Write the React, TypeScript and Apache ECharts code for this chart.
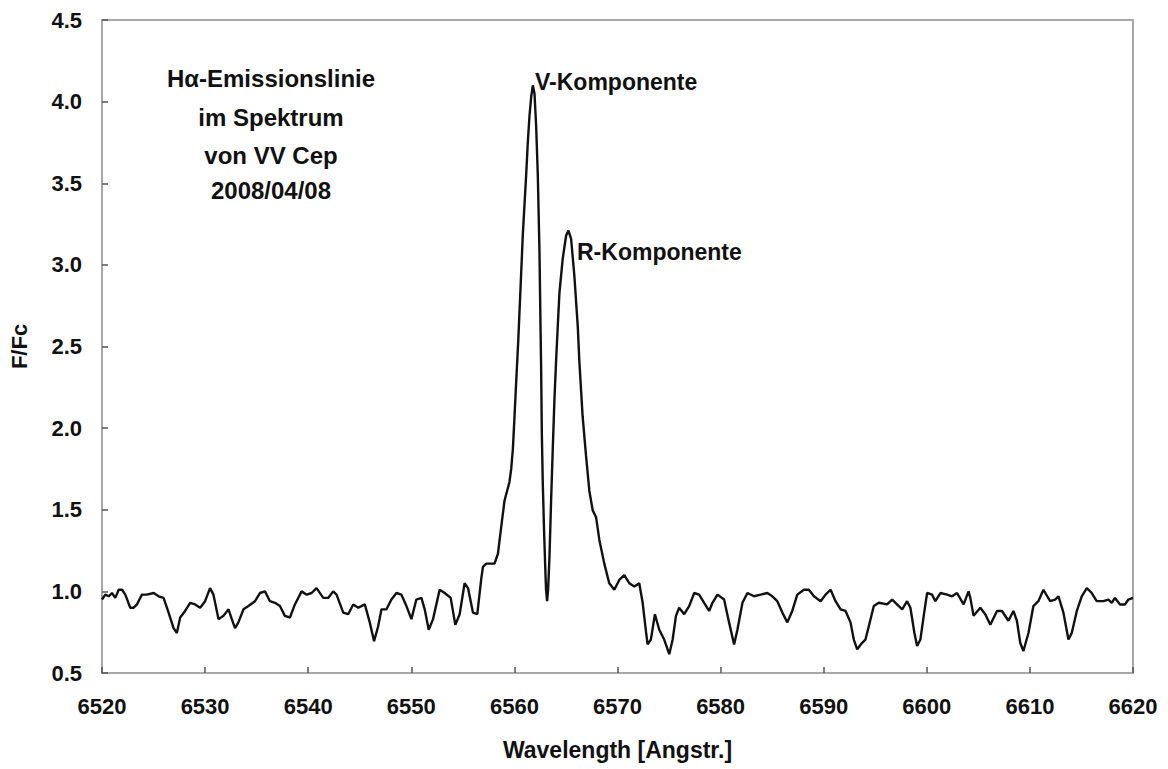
import React, { useEffect, useRef } from "react";
import * as echarts from "echarts";

const wavelength = [
  6520.00, 6520.32, 6520.65, 6520.97, 6521.29, 6521.62, 6521.94, 6522.26, 6522.74, 6523.07,
  6523.39, 6523.87, 6524.36, 6525.01, 6525.49, 6525.97, 6526.46, 6526.94, 6527.26, 6527.58,
  6528.06, 6528.55, 6529.03, 6529.52, 6530.00, 6530.48, 6530.81, 6531.30, 6531.78, 6532.27,
  6532.59, 6532.90, 6533.23, 6533.72, 6534.20, 6534.84, 6535.32, 6535.81, 6536.29, 6536.78,
  6537.26, 6537.74, 6538.23, 6538.71, 6539.36, 6539.85, 6540.33, 6540.81, 6541.46, 6541.94,
  6542.42, 6542.75, 6543.40, 6543.88, 6544.37, 6544.85, 6545.17, 6545.49, 6545.97, 6546.39,
  6546.78, 6547.11, 6547.59, 6548.07, 6548.56, 6549.04, 6549.53, 6550.01, 6550.49, 6550.98,
  6551.30, 6551.69, 6552.11, 6552.75, 6553.24, 6553.82, 6554.27, 6554.69, 6555.17, 6555.50,
  6555.98, 6556.40, 6556.79, 6556.95, 6557.27, 6558.07, 6558.40, 6558.72, 6559.04, 6559.52,
  6559.69, 6559.85, 6560.01, 6560.17, 6560.37, 6560.82, 6561.14, 6561.30, 6561.46, 6561.63,
  6561.79, 6561.95, 6562.11, 6562.27, 6562.43, 6562.52, 6562.59, 6562.66, 6562.75, 6562.88,
  6562.98, 6563.07, 6563.17, 6563.27, 6563.40, 6563.56, 6563.72, 6563.88, 6564.05, 6564.21,
  6564.37, 6564.69, 6565.02, 6565.24, 6565.50, 6565.82, 6566.15, 6566.29, 6566.62, 6566.95,
  6567.27, 6567.60, 6567.92, 6568.24, 6568.72, 6569.20, 6569.69, 6570.17, 6570.66, 6571.14,
  6571.63, 6572.11, 6572.44, 6572.76, 6572.92, 6573.24, 6573.63, 6574.05, 6574.53, 6575.02,
  6575.35, 6575.67, 6575.98, 6576.47, 6576.95, 6577.44, 6577.92, 6578.40, 6578.89, 6579.21,
  6579.70, 6580.34, 6580.82, 6581.31, 6581.63, 6582.12, 6582.60, 6583.24, 6583.89, 6584.54,
  6585.02, 6585.50, 6585.99, 6586.47, 6586.95, 6587.44, 6588.08, 6588.56, 6589.05, 6589.70,
  6590.18, 6590.67, 6591.15, 6591.64, 6592.12, 6592.60, 6592.92, 6593.25, 6593.73, 6594.05,
  6594.37, 6594.86, 6595.34, 6596.15, 6596.64, 6597.12, 6597.61, 6598.09, 6598.41, 6598.80,
  6599.06, 6599.38, 6599.70, 6600.03, 6600.51, 6600.83, 6601.32, 6601.97, 6602.45, 6602.93,
  6603.57, 6604.05, 6604.22, 6604.54, 6605.19, 6605.67, 6606.16, 6606.81, 6607.29, 6607.92,
  6608.40, 6608.74, 6609.06, 6609.37, 6609.86, 6610.34, 6610.82, 6611.31, 6611.96, 6612.45,
  6612.77, 6613.25, 6613.74, 6614.06, 6614.55, 6615.03, 6615.52, 6616.00, 6616.48, 6617.13,
  6617.61, 6617.94, 6618.25, 6618.74, 6619.23, 6619.55, 6620.00,
];

const flux = [
  0.95, 0.98, 0.97, 0.99, 0.96, 1.01, 1.01, 0.98, 0.90, 0.90,
  0.92, 0.98, 0.98, 0.99, 0.97, 0.96, 0.87, 0.775, 0.745, 0.84,
  0.88, 0.93, 0.92, 0.90, 0.94, 1.02, 0.98, 0.83, 0.85, 0.89,
  0.83, 0.775, 0.81, 0.89, 0.91, 0.94, 0.99, 1.00, 0.94, 0.93,
  0.91, 0.85, 0.84, 0.92, 1.00, 0.98, 0.99, 1.02, 0.96, 0.96,
  1.00, 0.98, 0.87, 0.86, 0.92, 0.90, 0.91, 0.92, 0.81, 0.695,
  0.785, 0.89, 0.89, 0.95, 0.99, 0.98, 0.91, 0.83, 0.95, 0.96,
  0.89, 0.765, 0.83, 1.01, 0.99, 0.96, 0.795, 0.86, 1.05, 1.02,
  0.87, 0.86, 1.08, 1.15, 1.17, 1.17, 1.23, 1.395, 1.555, 1.67,
  1.75, 1.87, 2.07, 2.28, 2.53, 3.19, 3.55, 3.75, 3.91, 4.03,
  4.10, 4.05, 3.85, 3.55, 3.09, 2.68, 2.38, 1.97, 1.67, 1.365,
  1.17, 1.01, 0.94, 1.01, 1.21, 1.555, 1.87, 2.17, 2.42, 2.63,
  2.83, 3.04, 3.18, 3.21, 3.16, 2.93, 2.62, 2.42, 2.07, 1.83,
  1.615, 1.495, 1.455, 1.315, 1.17, 1.05, 1.01, 1.07, 1.10, 1.05,
  1.03, 1.05, 0.93, 0.755, 0.675, 0.705, 0.86, 0.765, 0.705, 0.615,
  0.705, 0.85, 0.90, 0.86, 0.91, 0.99, 0.98, 0.93, 0.88, 0.93,
  0.98, 0.95, 0.81, 0.675, 0.765, 0.93, 0.99, 0.97, 0.98, 0.99,
  0.97, 0.94, 0.87, 0.81, 0.88, 0.98, 1.01, 1.01, 0.97, 0.94,
  0.98, 1.01, 0.94, 0.89, 0.88, 0.81, 0.705, 0.645, 0.685, 0.705,
  0.785, 0.91, 0.93, 0.92, 0.95, 0.92, 0.89, 0.94, 0.90, 0.745,
  0.665, 0.705, 0.85, 0.99, 0.98, 0.94, 0.99, 0.98, 0.97, 0.99,
  0.92, 1.00, 0.96, 0.85, 0.90, 0.86, 0.795, 0.88, 0.88, 0.82,
  0.88, 0.82, 0.685, 0.635, 0.745, 0.91, 0.94, 1.01, 0.94, 0.95,
  0.97, 0.87, 0.705, 0.745, 0.88, 0.97, 1.02, 0.99, 0.94, 0.94,
  0.95, 0.93, 0.96, 0.92, 0.92, 0.95, 0.96,
];

const titleLines = ["H\u03b1-Emissionslinie", "im Spektrum", "von VV Cep", "2008/04/08"];
const peakLabels = ["V-Komponente", "R-Komponente"];
const xAxisName = "Wavelength [Angstr.]";
const yAxisName = "F/Fc";

const FONT = "'Liberation Sans', Arial, Helvetica, sans-serif";

export default function App() {
  const ref = useRef<HTMLDivElement>(null);

  useEffect(() => {
    if (!ref.current) return;
    const chart = echarts.init(ref.current, null, { renderer: "svg" });
    const data = wavelength.map((w, i) => [w, flux[i]]);
    const titleY = [78, 117, 155, 190];

    chart.setOption({
      animation: false,
      backgroundColor: "#ffffff",
      grid: {
        left: 100,
        right: 35,
        top: 20,
        bottom: 96,
        show: true,
        borderColor: "#a8a8a8",
        borderWidth: 2,
        backgroundColor: "transparent",
      },
      xAxis: {
        type: "value",
        min: 6520,
        max: 6620,
        interval: 10,
        name: xAxisName,
        nameLocation: "middle",
        nameGap: 65,
        nameTextStyle: { fontFamily: FONT, fontWeight: "bold", fontSize: 23, color: "#111" },
        axisLine: { show: true, lineStyle: { color: "#a8a8a8", width: 2 } },
        axisTick: { show: true, inside: true, length: 6, lineStyle: { color: "#555", width: 1.5 } },
        axisLabel: {
          margin: 22,
          fontFamily: FONT,
          fontWeight: "bold",
          fontSize: 22,
          color: "#111",
          formatter: (v: number) => String(v),
        },
        splitLine: { show: false },
      },
      yAxis: {
        type: "value",
        min: 0.5,
        max: 4.5,
        interval: 0.5,
        name: yAxisName,
        nameLocation: "middle",
        nameGap: 72,
        nameRotate: 90,
        nameTextStyle: { fontFamily: FONT, fontWeight: "bold", fontSize: 22, color: "#111" },
        axisLine: { show: true, lineStyle: { color: "#a8a8a8", width: 2 } },
        axisTick: { show: true, inside: true, length: 6, lineStyle: { color: "#555", width: 1.5 } },
        axisLabel: {
          margin: 20,
          fontFamily: FONT,
          fontWeight: "bold",
          fontSize: 22,
          color: "#111",
          formatter: (v: number) => v.toFixed(1),
        },
        splitLine: { show: false },
      },
      series: [
        {
          type: "line",
          data,
          showSymbol: false,
          symbol: "none",
          lineStyle: { color: "#111", width: 2.4 },
        },
      ],
      graphic: [
        ...titleLines.map((t, i) => ({
          type: "text",
          x: 271,
          y: titleY[i],
          style: {
            text: t,
            fontFamily: FONT,
            fontWeight: "bold",
            fontSize: 24,
            fill: "#111",
            textAlign: "center",
            textVerticalAlign: "middle",
          },
        })),
        {
          type: "text",
          x: 535,
          y: 82,
          style: {
            text: peakLabels[0],
            fontFamily: FONT,
            fontWeight: "bold",
            fontSize: 23,
            fill: "#111",
            textAlign: "left",
            textVerticalAlign: "middle",
          },
        },
        {
          type: "text",
          x: 577,
          y: 252,
          style: {
            text: peakLabels[1],
            fontFamily: FONT,
            fontWeight: "bold",
            fontSize: 23,
            fill: "#111",
            textAlign: "left",
            textVerticalAlign: "middle",
          },
        },
      ],
    });

    return () => chart.dispose();
  }, []);

  return (
    <div
      ref={ref}
      style={{ position: "absolute", left: 0, top: 0, width: 1168, height: 769, background: "#fff" }}
    />
  );
}
